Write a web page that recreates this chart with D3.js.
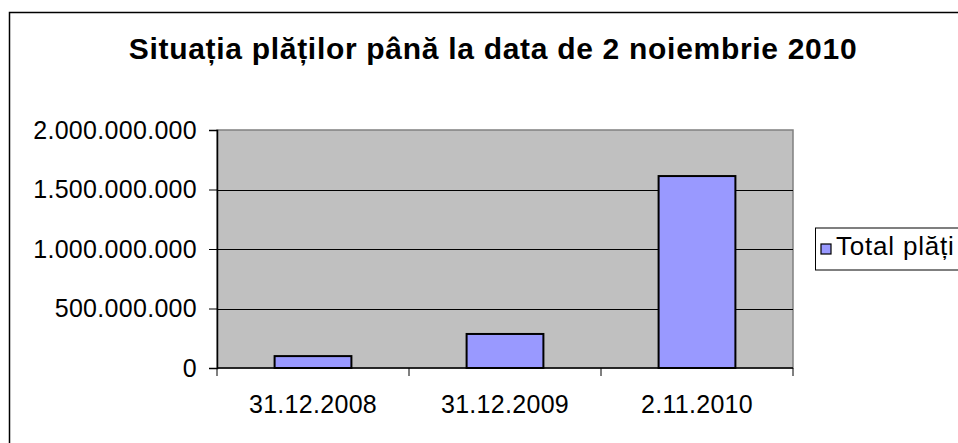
<!DOCTYPE html>
<html>
<head>
<meta charset="utf-8">
<script src="https://cdn.jsdelivr.net/npm/d3@7"></script>
<style>
  html, body { margin: 0; padding: 0; background: #fff; }
  svg { display: block; }
</style>
</head>
<body>
<div id="idChart"></div>
<script>
// Data
// -------------------
let chart_title = "Situația plăților până la data de 2 noiembrie 2010";
let categories = ["31.12.2008", "31.12.2009", "2.11.2010"];
let series_name = "Total plăți";
let series_values = [100000000, 286000000, 1613000000];
let y_ticks = [0, 500000000, 1000000000, 1500000000, 2000000000];
// -------------------

let width = 958;
let height = 443;
let font_family = "Arial, 'Liberation Sans', sans-serif";
let label_size = 25; // px

let svg_obj = d3.select("#idChart")
                .append("svg")
                  .attr("width", width)
                  .attr("height", height)
                  .attr("viewBox", [0, 0, width, height].join(" "));

// Outer frame (runs off the right and bottom edges)
svg_obj.append("rect")
   .attr("x", 9.5)
   .attr("y", 12.5)
   .attr("width", 1000)
   .attr("height", 500)
   .attr("fill", "#fff")
   .attr("stroke", "#000")
   .attr("stroke-width", 1.5);

// Title
svg_obj.append("text")
   .attr("x", 493)
   .attr("y", 59)
   .attr("text-anchor", "middle")
   .attr("font-family", font_family)
   .attr("font-weight", "bold")
   .attr("font-size", 30)
   .attr("letter-spacing", 0.7)
   .attr("fill", "#000")
   .text(chart_title);

// Plot area
let plot = { x0: 217, x1: 793, y0: 130, y1: 368 };

let x_scale = d3.scaleBand()
   .domain(categories)
   .range([plot.x0, plot.x1])
   .paddingInner(0.6)
   .paddingOuter(0.3);

let y_scale = d3.scaleLinear()
   .domain([0, 2000000000])
   .range([plot.y1, plot.y0]);

let locale = d3.formatLocale({ decimal: ",", thousands: ".", grouping: [3], currency: ["", ""] });
let fmt = locale.format(",d");

svg_obj.append("rect")
   .attr("x", plot.x0)
   .attr("y", plot.y0)
   .attr("width", plot.x1 - plot.x0)
   .attr("height", plot.y1 - plot.y0)
   .attr("fill", "#c0c0c0")
   .attr("stroke", "#808080")
   .attr("stroke-width", 1.5);

// Gridlines
svg_obj.append("g")
   .selectAll("line")
   .data(y_ticks.filter(d => d > 0 && d < 2000000000))
   .join("line")
     .attr("x1", plot.x0)
     .attr("x2", plot.x1)
     .attr("y1", d => Math.round(y_scale(d)) + 0.5)
     .attr("y2", d => Math.round(y_scale(d)) + 0.5)
     .attr("stroke", "#000")
     .attr("stroke-width", 1);

// Y axis
let y_axis = svg_obj.append("g")
   .attr("transform", "translate(" + plot.x0 + ",0)")
   .call(d3.axisLeft(y_scale).tickValues(y_ticks).tickFormat(fmt).tickSize(8).tickPadding(12));
y_axis.select(".domain").attr("stroke", "#000").attr("stroke-width", 1.5);
y_axis.selectAll(".tick line").attr("stroke", "#000");
y_axis.selectAll("text")
   .attr("font-family", font_family)
   .attr("font-size", label_size)
   .attr("letter-spacing", 0.3)
   .attr("fill", "#000");

// X axis with ticks at category boundaries
let x_axis = svg_obj.append("g")
   .attr("transform", "translate(0," + plot.y1 + ")");
x_axis.append("line")
   .attr("x1", plot.x0)
   .attr("x2", plot.x1)
   .attr("stroke", "#000")
   .attr("stroke-width", 1.5);
let step = x_scale.step();
x_axis.selectAll("line.tick")
   .data(d3.range(categories.length + 1))
   .join("line")
     .attr("class", "tick")
     .attr("x1", i => plot.x0 + i * step)
     .attr("x2", i => plot.x0 + i * step)
     .attr("y1", 0)
     .attr("y2", 8)
     .attr("stroke", "#000");
x_axis.selectAll("text")
   .data(categories)
   .join("text")
     .attr("x", d => x_scale(d) + x_scale.bandwidth() / 2)
     .attr("y", 45)
     .attr("text-anchor", "middle")
     .attr("font-family", font_family)
     .attr("font-size", label_size)
     .attr("letter-spacing", 0.3)
     .attr("fill", "#000")
     .text(d => d);

// Bars
svg_obj.append("g")
   .selectAll("rect")
   .data(series_values)
   .join("rect")
     .attr("x", (d, i) => x_scale(categories[i]))
     .attr("y", d => y_scale(d))
     .attr("width", x_scale.bandwidth())
     .attr("height", d => y_scale(0) - y_scale(d))
     .attr("fill", "#9999ff")
     .attr("stroke", "#000")
     .attr("stroke-width", 2);

// Legend (runs off the right edge)
let legend = svg_obj.append("g");
legend.append("rect")
   .attr("x", 815.5)
   .attr("y", 228)
   .attr("width", 200)
   .attr("height", 42)
   .attr("fill", "#fff")
   .attr("stroke", "#000")
   .attr("stroke-width", 1);
legend.append("rect")
   .attr("x", 821)
   .attr("y", 244)
   .attr("width", 10)
   .attr("height", 10)
   .attr("fill", "#9999ff")
   .attr("stroke", "#000")
   .attr("stroke-width", 1.2);
legend.append("text")
   .attr("x", 836)
   .attr("y", 255)
   .attr("font-family", font_family)
   .attr("font-size", 26)
   .attr("letter-spacing", 0.8)
   .attr("fill", "#000")
   .text(series_name);
</script>
</body>
</html>
